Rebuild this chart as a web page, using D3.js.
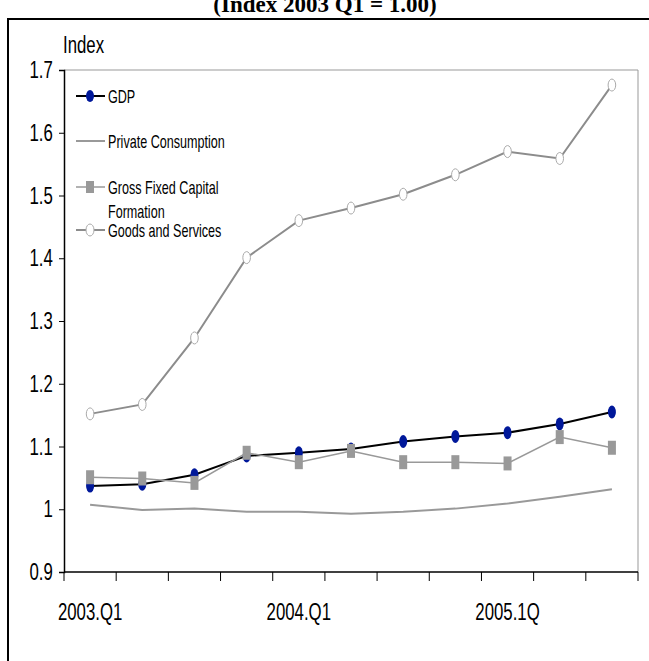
<!DOCTYPE html>
<html>
<head>
<meta charset="utf-8">
<script src="https://cdn.jsdelivr.net/npm/d3@7"></script>
<style>
  body { margin: 0; background: #fff; }
  svg text { font-family: "Liberation Sans", Arial, sans-serif; }
</style>
</head>
<body>
<div id="chart-area"></div>
<script>
// quarters 2003Q1 .. 2005Q3
var quarters = ["2003.Q1", "2003.Q2", "2003.Q3", "2003.Q4", "2004.Q1", "2004.Q2",
  "2004.Q3", "2004.Q4", "2005.1Q", "2005.2Q", "2005.3Q"];
var tickLabels = ["2003.Q1", "2004.Q1", "2005.1Q"];
var yTicks = [0.9, 1, 1.1, 1.2, 1.3, 1.4, 1.5, 1.6, 1.7];

var gdp = [1.037, 1.040, 1.055, 1.085, 1.090, 1.096, 1.108, 1.116, 1.122, 1.136, 1.155];
var privCons = [1.007, 0.999, 1.001, 0.996, 0.996, 0.993, 0.996, 1.001, 1.009, 1.020, 1.032];
var gfcf = [1.051, 1.049, 1.042, 1.090, 1.075, 1.093, 1.075, 1.075, 1.073, 1.115, 1.098];
var goods = [1.152, 1.167, 1.273, 1.401, 1.460, 1.480, 1.502, 1.533, 1.570, 1.559, 1.676];

var width = 649, height = 661;
var margin = { top: 70, right: 11, bottom: 89, left: 64 };
var w = width - margin.left - margin.right;
var h = height - margin.top - margin.bottom;
var squeeze = 0.7; // the original font is a narrow one

var svg = d3
  .select("#chart-area")
  .append("svg")
  .attr("width", width)
  .attr("height", height);

// outer frame (runs off the right and bottom edges)
svg.append("rect")
  .attr("x", 8).attr("y", 19)
  .attr("width", 660).attr("height", 700)
  .attr("fill", "none")
  .attr("stroke", "#000")
  .attr("stroke-width", 2);

// title, cut off at the top like in the original
svg.append("text")
  .attr("x", 325).attr("y", 12)
  .attr("text-anchor", "middle")
  .style("font-family", "'Liberation Serif', 'Times New Roman', serif")
  .style("font-size", "23px")
  .style("font-weight", "bold")
  .text("(Index 2003 Q1 = 1.00)");

var g = svg.append("g").attr("transform", "translate(" + margin.left + "," + margin.top + ")");

function narrowText(parent, x, y, size, txt, anchor) {
  return parent.append("text")
    .attr("transform", "translate(" + x + "," + y + ") scale(" + squeeze + ",1)")
    .attr("text-anchor", anchor || "start")
    .style("font-size", size + "px")
    .text(txt);
}

var x = d3.scaleBand().domain(quarters).range([0, w]);
var y = d3.scaleLinear().domain([0.9, 1.7]).range([h, 0]);
var cx = d => x(d) + x.bandwidth() / 2;

// plot frame top/right
g.append("path")
  .attr("d", "M0,0H" + w + "V" + h)
  .attr("fill", "none")
  .attr("stroke", "#999")
  .attr("stroke-width", 1);

// y axis
var yAxis = g.append("g")
  .call(d3.axisLeft(y).tickValues(yTicks).tickSize(5).tickPadding(11).tickFormat(d3.format("")));
yAxis.select(".domain").attr("stroke", "#000").attr("stroke-width", 1.5);
yAxis.selectAll("text")
  .style("font-size", "24px")
  .attr("fill", "#000")
  .attr("transform", "scale(" + squeeze + ",1)");

// x axis: ticks between quarters
var xAxis = g.append("g").attr("transform", "translate(0," + h + ")");
xAxis.append("line").attr("x1", 0).attr("x2", w).attr("stroke", "#000").attr("stroke-width", 1.5);
xAxis.selectAll("line.tick")
  .data(quarters.concat(["end"]))
  .enter()
  .append("line")
  .attr("class", "tick")
  .attr("x1", (d, i) => i * x.bandwidth())
  .attr("x2", (d, i) => i * x.bandwidth())
  .attr("y1", 0).attr("y2", 9)
  .attr("stroke", "#000");
tickLabels.forEach(function (d) {
  narrowText(xAxis, cx(d), 48, 24, d, "middle");
});

narrowText(g, -1, -17, 24, "Index");

var line = d3.line().x((d, i) => cx(quarters[i])).y(d => y(d));

// private consumption
g.append("path").datum(privCons).attr("d", line)
  .attr("fill", "none").attr("stroke", "#999").attr("stroke-width", 2);

// goods and services
g.append("path").datum(goods).attr("d", line)
  .attr("fill", "none").attr("stroke", "#8c8c8c").attr("stroke-width", 2);
g.selectAll("ellipse.goods").data(goods).enter()
  .append("ellipse").attr("class", "goods")
  .attr("cx", (d, i) => cx(quarters[i])).attr("cy", d => y(d))
  .attr("rx", 3.8).attr("ry", 6)
  .attr("fill", "#fff").attr("stroke", "#aaa").attr("stroke-width", 1);

// GDP
g.append("path").datum(gdp).attr("d", line)
  .attr("fill", "none").attr("stroke", "#000").attr("stroke-width", 2);
g.selectAll("ellipse.gdp").data(gdp).enter()
  .append("ellipse").attr("class", "gdp")
  .attr("cx", (d, i) => cx(quarters[i])).attr("cy", d => y(d))
  .attr("rx", 4).attr("ry", 6.5)
  .attr("fill", "#00189a");

// gross fixed capital formation
g.append("path").datum(gfcf).attr("d", line)
  .attr("fill", "none").attr("stroke", "#999").attr("stroke-width", 1.5);
g.selectAll("rect.gfcf").data(gfcf).enter()
  .append("rect").attr("class", "gfcf")
  .attr("x", (d, i) => cx(quarters[i]) - 4).attr("y", d => y(d) - 7)
  .attr("width", 8).attr("height", 14)
  .attr("fill", "#999");

// legend
var lg = g.append("g").attr("transform", "translate(12,0)");
var leg = [
  { name: ["GDP"], y: 26, color: "#000", mark: "dot" },
  { name: ["Private Consumption"], y: 71, color: "#999", mark: "none" },
  { name: ["Gross Fixed Capital", "Formation"], y: 117, color: "#999", mark: "sq" },
  { name: ["Goods and Services"], y: 160, color: "#8c8c8c", mark: "open" }
];
leg.forEach(function (d) {
  lg.append("line").attr("x1", 0).attr("x2", 29).attr("y1", d.y).attr("y2", d.y)
    .attr("stroke", d.color).attr("stroke-width", d.mark == "sq" ? 1.5 : 2);
  if (d.mark == "dot") lg.append("ellipse").attr("cx", 14).attr("cy", d.y).attr("rx", 4).attr("ry", 6).attr("fill", "#00189a");
  if (d.mark == "sq") lg.append("rect").attr("x", 10).attr("y", d.y - 6).attr("width", 8).attr("height", 12).attr("fill", "#999");
  if (d.mark == "open") lg.append("ellipse").attr("cx", 14).attr("cy", d.y).attr("rx", 4).attr("ry", 6).attr("fill", "#fff").attr("stroke", "#aaa");
  d.name.forEach(function (t, k) {
    narrowText(lg, 32, d.y + 7 + k * 24, 18, t);
  });
});
</script>
</body>
</html>
